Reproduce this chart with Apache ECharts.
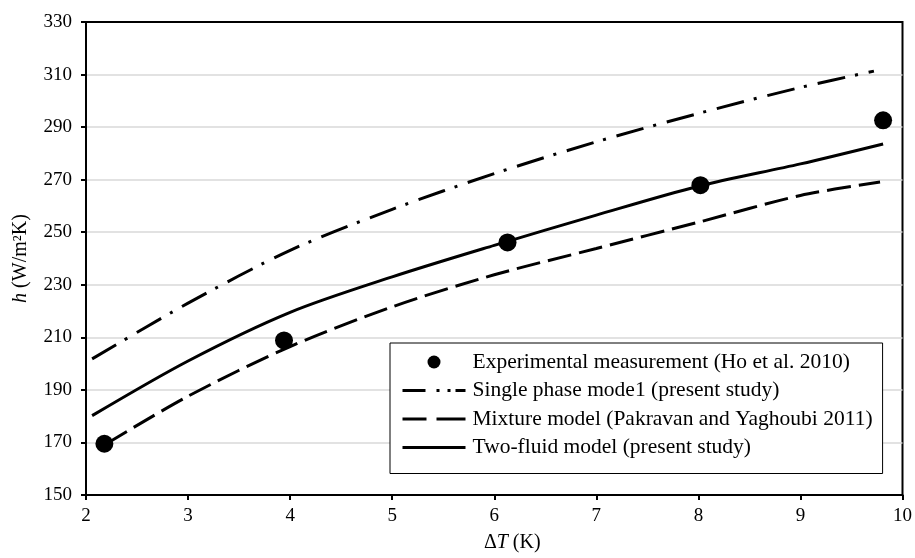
<!DOCTYPE html>
<html>
<head>
<meta charset="utf-8">
<script src="https://cdn.jsdelivr.net/npm/echarts@6/dist/echarts.min.js"></script>
<style>
    html, body { margin: 0; padding: 0; background: #fff; }
    #chart { width: 915px; height: 558px; }
</style>
</head>
<body>
<div id="chart"></div>
<script>
// experimental points (Ho et al. 2010)
var expX = [2.18, 3.94, 6.13, 8.02, 9.81];
var expH = [169.5, 208.8, 246.1, 267.9, 292.6];

// model curves
var singleX = [2.06, 3, 4, 5, 6, 7, 8, 9, 9.72];
var singleH = [201.8, 223.0, 243.1, 258.7, 272.3, 284.4, 295.2, 305.1, 311.3];

var mixtureX = [2.2, 3, 4, 5, 6, 7, 8, 9, 9.78];
var mixtureH = [169.5, 187.6, 206.5, 221.6, 233.8, 243.8, 253.8, 264.0, 269.1];

var twoFluidX = [2.06, 3, 4, 5, 6, 7, 8, 9, 9.81];
var twoFluidH = [180.2, 201.0, 219.5, 233.0, 245.0, 256.5, 267.5, 276.0, 283.6];

var xTicks = [2, 3, 4, 5, 6, 7, 8, 9, 10];
var yTicks = [150, 170, 190, 210, 230, 250, 270, 290, 310, 330];

var names = [
    'Experimental measurement (Ho et al. 2010)',
    'Single phase mode1 (present study)',
    'Mixture model (Pakravan and Yaghoubi 2011)',
    'Two-fluid model (present study)'
];

function pairs(xs, ys) {
    return xs.map(function (x, i) { return [x, ys[i]]; });
}

var font = '"Liberation Serif", "Times New Roman", serif';
// hide the little marker ECharts puts on line legend icons
var noMark = { opacity: 0 };

var myChart = echarts.init(document.getElementById('chart'));
myChart.setOption({
    animation: false,
    backgroundColor: '#fff',
    textStyle: { fontFamily: font, color: '#000' },
    grid: {
        left: 86, right: 10, top: 22, bottom: 59,
        show: true, borderColor: '#000', borderWidth: 2
    },
    legend: {
        orient: 'vertical',
        left: 390, top: 343,
        backgroundColor: '#fff',
        borderColor: '#000', borderWidth: 1,
        padding: [8, 10, 15, 11],
        itemWidth: 63, itemHeight: 13, itemGap: 6.5,
        textStyle: { fontFamily: font, fontSize: 21.5, lineHeight: 21, color: '#000', padding: [0, 0, 0, 2] },
        data: [
            { name: names[0], icon: 'circle' },
            { name: names[1], itemStyle: noMark, lineStyle: { width: 3, type: [23, 11, 3, 8, 3, 5, 12, 100] } },
            { name: names[2], itemStyle: noMark, lineStyle: { width: 3, type: [24, 10, 30, 100] } },
            { name: names[3], itemStyle: noMark, lineStyle: { width: 3 } }
        ]
    },
    xAxis: {
        type: 'value',
        min: xTicks[0], max: xTicks[xTicks.length - 1], interval: 1,
        name: '{n|Δ}{i|T}{n| (K)}',
        nameLocation: 'middle', nameGap: 38,
        nameTextStyle: {
            padding: [0, 0, 0, 36],
            rich: {
                n: { fontFamily: font, fontSize: 20, color: '#000' },
                i: { fontFamily: font, fontSize: 20, fontStyle: 'italic', color: '#000' }
            }
        },
        axisLine: { lineStyle: { color: '#000', width: 2 } },
        axisTick: { show: true, length: 5, lineStyle: { color: '#000', width: 2 } },
        axisLabel: { fontFamily: font, fontSize: 19, color: '#000', margin: 12 },
        splitLine: { show: false }
    },
    yAxis: {
        type: 'value',
        min: yTicks[0], max: yTicks[yTicks.length - 1], interval: 20,
        name: '{i|h}{n| (W/m²K)}',
        nameLocation: 'middle', nameGap: 55,
        nameTextStyle: {
            rich: {
                n: { fontFamily: font, fontSize: 20, color: '#000' },
                i: { fontFamily: font, fontSize: 20, fontStyle: 'italic', color: '#000' }
            }
        },
        axisLine: { lineStyle: { color: '#000', width: 2 } },
        axisTick: { show: true, length: 5, lineStyle: { color: '#000', width: 2 } },
        axisLabel: { fontFamily: font, fontSize: 19, color: '#000', margin: 14 },
        splitLine: {
            show: true, showMinLine: false, showMaxLine: false,
            lineStyle: { color: '#d9d9d9', width: 1.5 }
        }
    },
    series: [
        {
            name: names[0],
            type: 'scatter',
            symbol: 'circle',
            symbolSize: 18,
            itemStyle: { color: '#000', opacity: 1 },
            z: 5,
            data: pairs(expX, expH)
        },
        {
            name: names[1],
            type: 'line',
            smooth: 0.3,
            showSymbol: false,
            symbol: 'none',
            itemStyle: { color: '#000' },
            lineStyle: { color: '#000', width: 3, type: [28, 10, 3, 11] },
            data: pairs(singleX, singleH)
        },
        {
            name: names[2],
            type: 'line',
            smooth: 0.3,
            showSymbol: false,
            symbol: 'none',
            itemStyle: { color: '#000' },
            lineStyle: { color: '#000', width: 3, type: [24, 8] },
            data: pairs(mixtureX, mixtureH)
        },
        {
            name: names[3],
            type: 'line',
            smooth: 0.3,
            showSymbol: false,
            symbol: 'none',
            itemStyle: { color: '#000' },
            lineStyle: { color: '#000', width: 3 },
            data: pairs(twoFluidX, twoFluidH)
        }
    ]
});
</script>
</body>
</html>
